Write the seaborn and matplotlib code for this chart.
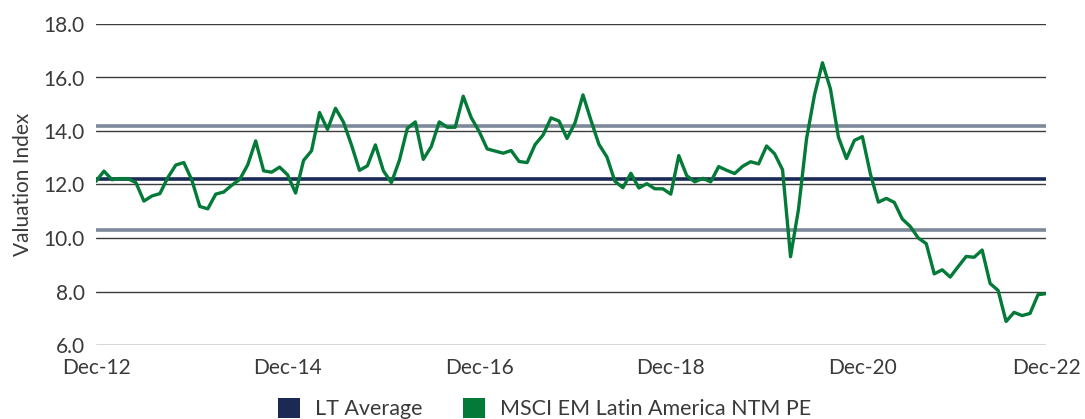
import numpy as np
import pandas as pd
import matplotlib
matplotlib.use("Agg")
import matplotlib.pyplot as plt
from matplotlib.patches import Patch
import seaborn as sns

# ---- data ----
pe_values = [
    12.12, 12.50, 12.18, 12.22, 12.22, 12.07, 11.38, 11.57, 11.66, 12.26,
    12.73, 12.82, 12.17, 11.18, 11.09, 11.64, 11.72, 11.97, 12.19, 12.73,
    13.63, 12.51, 12.46, 12.65, 12.36, 11.68, 12.90, 13.26, 14.69, 14.06,
    14.85, 14.33, 13.48, 12.53, 12.70, 13.48, 12.51, 12.07, 12.90, 14.10,
    14.34, 12.94, 13.42, 14.34, 14.14, 14.14, 15.30, 14.50, 13.98, 13.33,
    13.25, 13.17, 13.27, 12.86, 12.82, 13.49, 13.85, 14.49, 14.37, 13.72,
    14.30, 15.35, 14.40, 13.50, 13.03, 12.12, 11.88, 12.42, 11.87, 12.03,
    11.84, 11.84, 11.64, 13.08, 12.33, 12.10, 12.23, 12.10, 12.67, 12.53,
    12.41, 12.68, 12.85, 12.77, 13.44, 13.15, 12.55, 9.30, 11.08, 13.70,
    15.35, 16.55, 15.57, 13.77, 12.97, 13.65, 13.79, 12.40, 11.34, 11.48,
    11.33, 10.71, 10.43, 10.00, 9.79, 8.66, 8.81, 8.54, 8.93, 9.31,
    9.28, 9.55, 8.30, 8.04, 6.88, 7.22, 7.10, 7.18, 7.88, 7.92,
]
month_index = list(range(len(pe_values)))
lt_average = 12.22
band_values = [10.31, 14.17]
tick_positions = [0, 24, 48, 72, 96, 119]
tick_labels = ["Dec-12", "Dec-14", "Dec-16", "Dec-18", "Dec-20", "Dec-22"]
y_ticks = [6, 8, 10, 12, 14, 16, 18]
series_names = ["LT Average", "MSCI EM Latin America NTM PE"]

df = pd.DataFrame({"month": month_index, "pe": pe_values})

# ---- style ----
sns.set_theme(style="white")
plt.rcParams["font.family"] = ["Lato", "DejaVu Sans"]
text_color = "#3a3a3a"
navy = "#1b2a55"
green = "#037a37"
band_color = "#7d8898"
grid_color = "#3c3c3c"

fig = plt.figure(figsize=(10.85, 4.19), dpi=100)
ax = fig.add_axes([96 / 1085, 1 - 345 / 419, 950 / 1085, 321 / 419])

ax.set_ylim(6, 18)
ax.set_xlim(0, len(pe_values) - 1)
ax.set_yticks(y_ticks)
ax.set_yticklabels([f"{v:.1f}" for v in y_ticks])
ax.yaxis.grid(True, color=grid_color, linewidth=1.0, zorder=0)
ax.xaxis.grid(False)
for s in ax.spines.values():
    s.set_visible(False)

for b in band_values:
    ax.axhline(b, color=band_color, linewidth=2.6, zorder=2)
ax.axhline(lt_average, color=navy, linewidth=2.6, zorder=3)

sns.lineplot(data=df, x="month", y="pe", ax=ax, color=green, linewidth=2.4,
             zorder=4, legend=False)

ax.set_xticks(tick_positions)
ax.set_xticklabels(tick_labels)
ax.tick_params(axis="both", length=0, labelsize=15, colors=text_color)
ax.tick_params(axis="y", pad=8)
ax.tick_params(axis="x", pad=9)
ax.set_xlabel("")
ax.set_ylabel("Valuation Index", fontsize=15, color=text_color, labelpad=8)

handles = [Patch(facecolor=navy, edgecolor="none"),
           Patch(facecolor=green, edgecolor="none")]
fig.legend(handles, series_names, loc="center", bbox_to_anchor=(0.502, 0.024),
           ncol=2, frameon=False, fontsize=15.5, handlelength=1.0,
           handleheight=1.0, handletextpad=0.7, columnspacing=1.9,
           labelcolor=text_color)

fig.savefig("out.png", dpi=100)
